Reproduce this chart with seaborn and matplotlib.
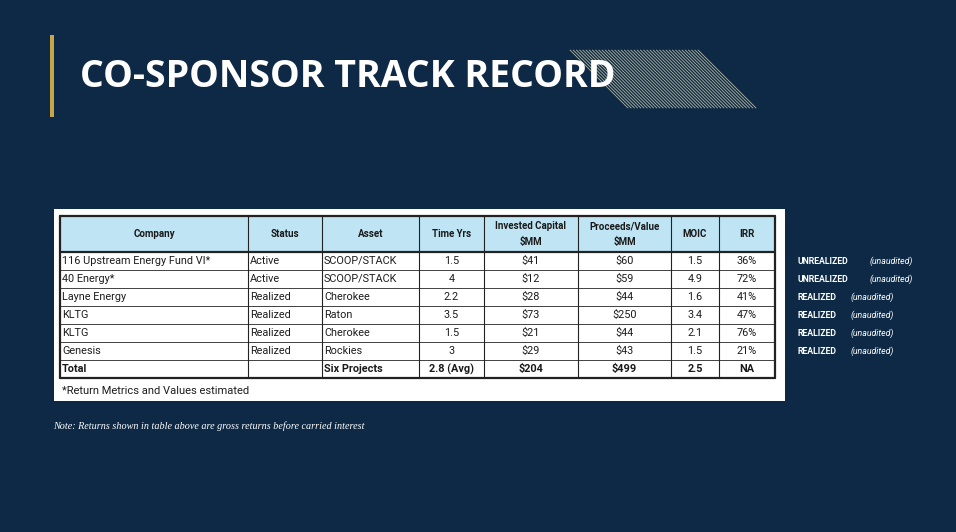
import numpy as np
import matplotlib.pyplot as plt
import seaborn as sns
from matplotlib.patches import Rectangle

sns.set_theme(style="white")

columns = ["Company", "Status", "Asset", "Time Yrs", "Invested Capital\n$MM", "Proceeds/Value\n$MM", "MOIC", "IRR"]
companies = ["116 Upstream Energy Fund VI*", "40 Energy*", "Layne Energy", "KLTG", "KLTG", "Genesis"]
statuses = ["Active", "Active", "Realized", "Realized", "Realized", "Realized"]
assets = ["SCOOP/STACK", "SCOOP/STACK", "Cherokee", "Raton", "Cherokee", "Rockies"]
time_yrs = ["1.5", "4", "2.2", "3.5", "1.5", "3"]
invested = ["$41", "$12", "$28", "$73", "$21", "$29"]
proceeds = ["$60", "$59", "$44", "$250", "$44", "$43"]
moic = ["1.5", "4.9", "1.6", "3.4", "2.1", "1.5"]
irr = ["36%", "72%", "41%", "47%", "76%", "21%"]
total_row = ["Total", "", "Six Projects", "2.8 (Avg)", "$204", "$499", "2.5", "NA"]
side_status = ["UNREALIZED", "UNREALIZED", "REALIZED", "REALIZED", "REALIZED", "REALIZED"]

bg = "#0d2945"
fig = plt.figure(figsize=(9.56, 5.32), dpi=100, facecolor=bg)
ax = fig.add_axes([0, 0, 1, 1])
ax.set_xlim(0, 956)
ax.set_ylim(532, 0)
ax.axis("off")
ax.set_facecolor(bg)

# title decoration
ax.add_patch(Rectangle((50, 35), 4, 82, color="#c9a54a", lw=0))
for x in np.arange(570, 700, 3.2):
    ax.plot([x, x + 58], [50, 108], color="#c8c8a8", lw=0.6, alpha=0.9)
ax.text(80, 77, "CO-SPONSOR TRACK RECORD", color="white", fontsize=27,
        fontweight="bold", family="Open Sans", va="center", ha="left")

# table
ax.add_patch(Rectangle((54, 209), 731, 192, color="white", lw=0))
xb = [60, 248, 322, 419, 484, 578, 671, 719, 775]
yb = [216, 252, 270, 288, 306, 324, 342, 360, 378]
ax.add_patch(Rectangle((xb[0], yb[0]), xb[-1] - xb[0], yb[1] - yb[0], color="#bfe4f3", lw=0))
for x in xb:
    lw = 1.6 if x in (xb[0], xb[-1]) else 0.8
    ax.plot([x, x], [yb[0], yb[-1]], color="#222222", lw=lw)
for i, y in enumerate(yb):
    lw = 1.6 if i in (0, 1, len(yb) - 1) else 0.6
    ax.plot([xb[0], xb[-1]], [y, y], color="#222222", lw=lw)

for j, c in enumerate(columns):
    ax.text((xb[j] + xb[j + 1]) / 2, (yb[0] + yb[1]) / 2, c, ha="center", va="center",
            fontsize=7, fontweight="bold", color="#1a1a1a", linespacing=1.6,
            family="Roboto")

rows = list(zip(companies, statuses, assets, time_yrs, invested, proceeds, moic, irr))
for i, row in enumerate(rows + [tuple(total_row)]):
    yc = (yb[i + 1] + yb[i + 2]) / 2
    bold = i == len(rows)
    for j, val in enumerate(row):
        kw = dict(va="center", fontsize=7.8, color="#1a1a1a", family="Roboto",
                  fontweight="bold" if bold else "normal")
        if j < 3:
            ax.text(xb[j] + 2, yc, val, ha="left", **kw)
        else:
            ax.text((xb[j] + xb[j + 1]) / 2, yc, val, ha="center", **kw)

ax.text(62, 391, "*Return Metrics and Values estimated", ha="left", va="center",
        fontsize=8, color="#1a1a1a", family="Roboto")

# side labels
for i, s in enumerate(side_status):
    yc = (yb[i + 1] + yb[i + 2]) / 2
    ax.text(798, yc, s, ha="left", va="center", fontsize=6.3, color="white",
            fontweight="bold", family="Roboto")
    off = 870 if s == "UNREALIZED" else 851
    ax.text(off, yc, "(unaudited)", ha="left", va="center", fontsize=6.3,
            color="white", style="italic", family="Roboto")

ax.text(53, 426, "Note: Returns shown in table above are gross returns before carried interest",
        ha="left", va="center", fontsize=7.3, color="white", style="italic", family="Liberation Serif")

fig.savefig("out.png", dpi=100, facecolor=bg)
